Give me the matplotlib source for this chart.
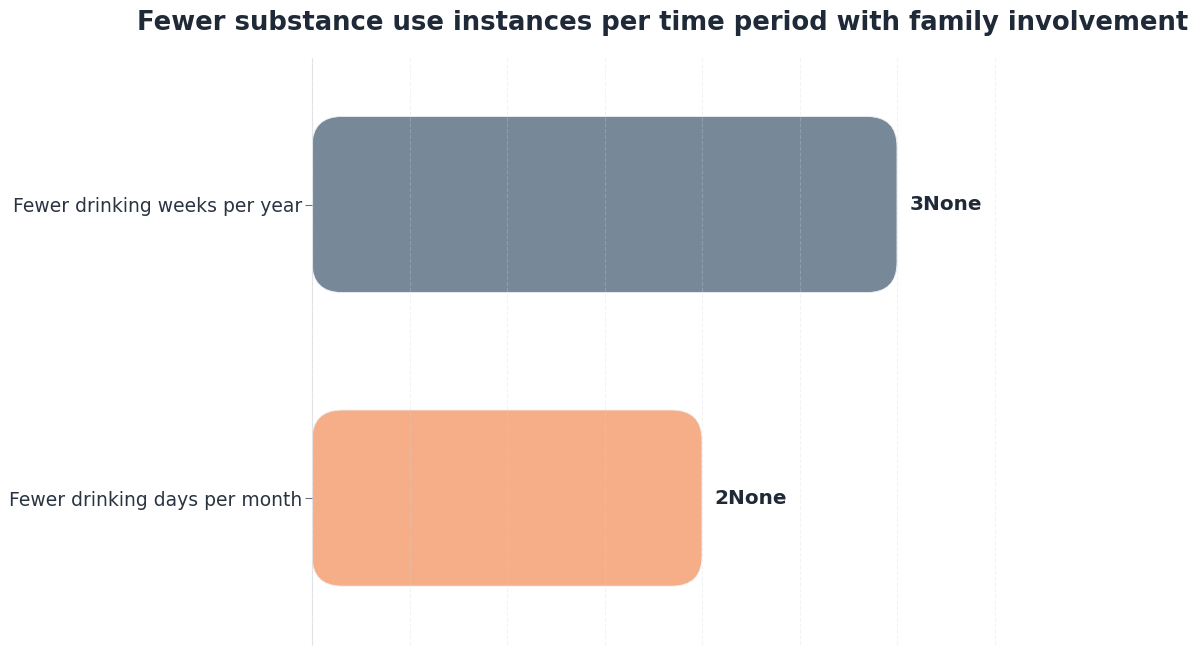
import matplotlib.pyplot as plt
from matplotlib.patches import FancyBboxPatch
import numpy as np

# data
categories = ['Fewer drinking days per month', 'Fewer drinking weeks per year']
values = [2, 3]
value_labels = ['2None', '3None']
colors = ['#F5AE88', '#778899']

text_color = '#1f2937'

fig = plt.figure(figsize=(12, 6.56), dpi=100)
ax = fig.add_axes([0.26, 0.017, 0.585, 0.895])

y_pos = np.arange(len(categories))
bars = ax.barh(y_pos, values, height=0.6, color='none', edgecolor='none')

ax.set_xlim(0, max(values) * 1.2)
ax.set_ylim(-0.5, len(categories) - 0.5)

# swap plain bars for rounded ones
for bar, c in zip(bars, colors):
    x, y = bar.get_x(), bar.get_y()
    w, h = bar.get_width(), bar.get_height()
    patch = FancyBboxPatch((x, y), w, h,
                           boxstyle='round,pad=0,rounding_size=0.155',
                           mutation_aspect=0.665,
                           facecolor=c, edgecolor='#eef0f3', linewidth=0.6,
                           zorder=1)
    ax.add_patch(patch)

for bar, lab in zip(bars, value_labels):
    ax.annotate(lab, (bar.get_width(), bar.get_y() + bar.get_height() / 2),
                xytext=(9, 0), textcoords='offset points',
                va='center', ha='left', fontsize=14.4, fontweight='bold',
                color=text_color)

ax.set_yticks(y_pos)
ax.set_yticklabels(categories, fontsize=13.5, color='#2a3441')
ax.tick_params(axis='y', length=5, color='#6b7280', pad=2)
ax.set_xticks(np.arange(0, max(values) * 1.2 + 0.01, 0.5))
ax.tick_params(axis='x', length=0, labelbottom=False)

ax.grid(axis='x', linestyle='--', color='#d1d5db', alpha=0.28, linewidth=0.8, zorder=2)
ax.set_axisbelow(False)

for s in ['top', 'right', 'bottom']:
    ax.spines[s].set_visible(False)
ax.spines['left'].set_color('#e5e7eb')

ax.set_title('Fewer substance use instances per time period with family involvement',
             fontsize=18.6, fontweight='bold', color=text_color, pad=20)

fig.savefig('out.png', dpi=100)
